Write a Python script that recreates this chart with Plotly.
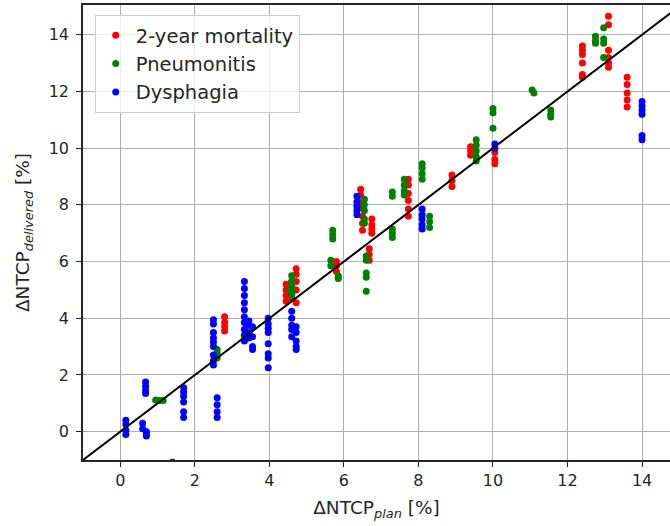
import plotly.graph_objects as go

# ---- data ----
mort_x = [2.8, 2.8, 2.8, 2.8,
          4.45, 4.45, 4.45, 4.45, 4.6, 4.6, 4.6, 4.6, 4.72, 4.72, 4.72, 4.72, 4.72,
          5.8, 5.8, 5.8,
          6.45, 6.45, 6.45, 6.45, 6.5, 6.5, 6.5,
          6.75, 6.75, 6.75, 6.75, 6.68, 6.68, 6.68,
          7.73, 7.73, 7.73, 7.73, 7.73, 7.73,
          8.9, 8.9, 8.9,
          9.4, 9.4, 9.4,
          10.05, 10.05, 10.05,
          12.4, 12.4, 12.4, 12.4, 12.4, 12.4,
          13.1, 13.1, 13.1, 13.1, 13.1, 13.1,
          13.6, 13.6, 13.6, 13.6, 13.6]
mort_y = [4.05, 3.85, 3.7, 3.55,
          5.2, 5.0, 4.8, 4.6, 5.3, 5.1, 4.85, 4.7, 5.75, 5.55, 5.3, 5.0, 4.55,
          6.0, 5.85, 5.65,
          8.55, 8.35, 8.1, 7.9, 7.6, 7.35, 7.1,
          7.5, 7.3, 7.15, 7.0, 6.45, 6.25, 6.05,
          8.9, 8.7, 8.4, 8.15, 7.85, 7.6,
          9.05, 8.85, 8.65,
          10.05, 9.9, 9.75,
          9.85, 9.6, 9.45,
          13.6, 13.45, 13.3, 13.0, 12.6, 12.5,
          14.65, 14.35, 13.45, 13.2, 13.0, 12.85,
          12.5, 12.25, 11.95, 11.7, 11.45]

pneu_x = [0.95, 1.05, 1.15,
          2.6, 2.6, 2.6,
          4.6, 4.6, 4.6, 4.6, 4.6, 4.55,
          5.7, 5.7, 5.7,
          5.65, 5.65, 5.85, 5.85,
          6.55, 6.55, 6.55, 6.55, 6.55,
          6.6, 6.6, 6.6, 6.6, 6.6,
          7.3, 7.3, 7.3, 7.3, 7.3,
          7.62, 7.62, 7.62, 7.62,
          8.3, 8.3, 8.3,
          8.1, 8.1, 8.1, 8.1,
          9.55, 9.55, 9.55, 9.55, 9.55,
          10.0, 10.0, 10.0,
          11.05, 11.1,
          11.55, 11.55, 11.55,
          12.75, 12.75, 12.75,
          12.97, 12.97, 12.97, 12.97]
pneu_y = [1.12, 1.1, 1.1,
          2.9, 2.75, 2.6,
          5.5, 5.3, 5.15, 4.95, 4.8, 5.0,
          7.1, 6.95, 6.8,
          6.05, 5.85, 5.5, 5.4,
          8.2, 8.0, 7.8, 7.5, 7.35,
          6.2, 6.05, 5.6, 5.45, 4.95,
          8.45, 8.3, 7.15, 7.0, 6.85,
          8.9, 8.7, 8.5, 8.35,
          7.6, 7.4, 7.2,
          9.45, 9.3, 9.1, 8.9,
          10.3, 10.1, 9.9, 9.7, 9.55,
          11.4, 11.25, 10.7,
          12.05, 11.95,
          11.35, 11.2, 11.1,
          13.95, 13.8, 13.7,
          14.25, 13.85, 13.7, 13.2]

dys_x = [0.15, 0.15, 0.15, 0.15,
         0.6, 0.6, 0.7, 0.7, 0.7,
         0.68, 0.68, 0.68, 0.68,
         1.4,
         1.7, 1.7, 1.7, 1.7, 1.7, 1.7,
         2.6, 2.6, 2.6, 2.6,
         2.5, 2.5, 2.5, 2.5, 2.5, 2.5, 2.5, 2.5, 2.5,
         3.33, 3.33, 3.33, 3.33, 3.33, 3.33, 3.33, 3.33, 3.33, 3.33,
         3.45, 3.45, 3.45, 3.45,
         3.55, 3.55, 3.55, 3.55,
         3.97, 3.97, 3.97, 3.97, 3.97, 3.97, 3.97, 3.97,
         4.6, 4.6, 4.6, 4.6, 4.6,
         4.72, 4.72, 4.72, 4.72, 4.72,
         6.35, 6.35, 6.35, 6.35, 6.35,
         8.1, 8.1, 8.1, 8.1, 8.1,
         10.05, 10.05,
         14.0, 14.0, 14.0, 14.0, 14.0, 14.0]
dys_y = [0.4, 0.25, 0.05, -0.1,
         0.3, 0.1, 0.0, -0.1, -0.15,
         1.75, 1.6, 1.45, 1.35,
         -1.08,
         1.55, 1.4, 1.25, 1.05, 0.7, 0.5,
         1.2, 0.95, 0.7, 0.5,
         3.95, 3.8, 3.5, 3.3, 3.15, 3.0, 2.7, 2.5, 2.35,
         5.3, 5.05, 4.8, 4.55, 4.3, 4.05, 3.85, 3.6, 3.4, 3.2,
         3.9, 3.75, 3.5, 3.3,
         3.7, 3.35, 3.0, 2.9,
         4.0, 3.8, 3.65, 3.5, 3.1, 2.75, 2.6, 2.25,
         4.25, 4.0, 3.75, 3.6, 3.35,
         3.7, 3.5, 3.2, 3.0, 2.9,
         8.3, 8.1, 7.95, 7.8, 7.65,
         7.85, 7.65, 7.5, 7.3, 7.15,
         10.15, 10.0,
         11.65, 11.5, 11.35, 11.2, 10.45, 10.3]

series_names = ["2-year mortality", "Pneumonitis", "Dysphagia"]
series_colors = ["#ff0000", "#008000", "#0000ff"]

identity = [-1, 15.5]
x_ticks = [0, 2, 4, 6, 8, 10, 12, 14]
y_ticks = [0, 2, 4, 6, 8, 10, 12, 14]

fig = go.Figure()
for name, color, xs, ys in zip(series_names, series_colors,
                               [mort_x, pneu_x, dys_x], [mort_y, pneu_y, dys_y]):
    fig.add_trace(go.Scatter(x=xs, y=ys, mode="markers", name=name,
                             marker=dict(color=color, size=7, line=dict(width=0))))

fig.add_trace(go.Scatter(x=identity, y=identity, mode="lines", showlegend=False,
                         line=dict(color="black", width=2)))

axis_common = dict(showgrid=True, gridcolor="#b0b0b0", gridwidth=1, zeroline=False,
                   showline=True, linecolor="#262626", linewidth=1.5,
                   ticks="outside", ticklen=5, tickwidth=1.2, tickcolor="#262626",
                   tickfont=dict(size=16, color="#262626"))

fig.update_layout(
    width=670, height=526,
    margin=dict(l=83, r=0, t=5, b=66),
    plot_bgcolor="white", paper_bgcolor="white",
    font=dict(family="DejaVu Sans", color="#262626"),
    xaxis=dict(range=[-1, 14.75], tickvals=x_ticks, mirror=True,
               title=dict(text="ΔNTCP<sub><i>plan</i></sub> [%]", font=dict(size=18.5), standoff=12),
               **axis_common),
    yaxis=dict(range=[-1, 15.05], tickvals=y_ticks, ticklabelstandoff=4,
               title=dict(text="ΔNTCP<sub><i>delivered</i></sub> [%]", font=dict(size=18.5), standoff=14),
               **axis_common),
    legend=dict(x=0.02, y=0.978, xanchor="left", yanchor="top",
                bgcolor="rgba(255,255,255,0.8)", bordercolor="#cccccc", borderwidth=1,
                font=dict(size=19.5, color="#262626")),
)

fig.write_html("out.html")
